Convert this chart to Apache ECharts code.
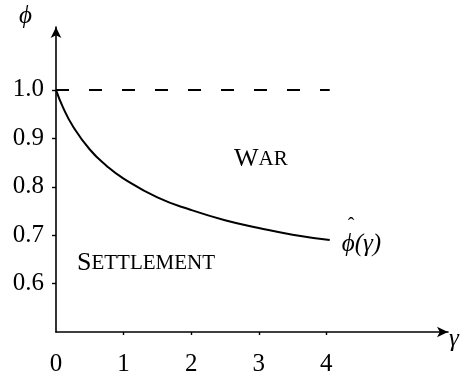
<!DOCTYPE html>
<html>
<head>
<meta charset="utf-8">
<script src="https://cdn.jsdelivr.net/npm/echarts@6/dist/echarts.min.js"></script>
<style>
  html, body { margin: 0; padding: 0; background: #fff; }
  #chart { width: 467px; height: 378px; }
</style>
</head>
<body>
<div id="chart"></div>
<script>
// curve phi_hat(gamma)
const gammaVals = [0, 0.1, 0.25, 0.5, 0.75, 1, 1.5, 2, 2.5, 3, 3.5, 4.05];
const phiVals = [1.0, 0.965, 0.925, 0.877, 0.843, 0.817, 0.778, 0.752, 0.731, 0.715, 0.701, 0.69];
// dashed reference line at phi = 1
const refX = [0, 4.05];
const refY = [1.0, 1.0];
// ticks
const xTickLabels = [0, 1, 2, 3, 4];
const xTicks = [1, 2, 3, 4];
const yTickLabels = [0.6, 0.7, 0.8, 0.9, 1.0];

const serif = 'Liberation Serif';
const myChart = echarts.init(document.getElementById('chart'));

const smallCaps = {
  b: { fontFamily: serif, fontSize: 26, color: '#000' },
  s: { fontFamily: serif, fontSize: 21, color: '#000' }
};

const option = {
  animation: false,
  grid: { left: 56, right: 19, top: 27, bottom: 46 },
  xAxis: {
    type: 'value',
    min: 0,
    max: 5.8,
    splitLine: { show: false },
    axisLine: {
      onZero: false,
      symbol: ['none', 'arrow'],
      symbolSize: [8, 11],
      lineStyle: { color: '#000', width: 1.6 }
    },
    axisTick: {
      customValues: xTicks,
      length: 3,
      lineStyle: { color: '#000', width: 1.4 }
    },
    axisLabel: {
      customValues: xTickLabels,
      margin: 20,
      color: '#000',
      fontFamily: serif,
      fontSize: 25
    }
  },
  yAxis: {
    type: 'value',
    min: 0.5,
    max: 1.13,
    splitLine: { show: false },
    axisLine: {
      onZero: false,
      symbol: ['none', 'arrow'],
      symbolSize: [8, 11],
      lineStyle: { color: '#000', width: 1.6 }
    },
    axisTick: {
      customValues: yTickLabels,
      length: 4,
      lineStyle: { color: '#000', width: 1.4 }
    },
    axisLabel: {
      customValues: yTickLabels,
      margin: 12,
      color: '#000',
      fontFamily: serif,
      fontSize: 25,
      formatter: function (v) { return v.toFixed(1); }
    }
  },
  graphic: [
    { type: 'text', left: 19, top: 4,
      style: { text: 'ϕ', font: 'italic 25px "Liberation Serif"', fill: '#000' } },
    { type: 'text', left: 449, top: 327,
      style: { text: 'γ', font: 'italic 25px "Liberation Serif"', fill: '#000' } },
    { type: 'text', left: 234, top: 146,
      style: { text: '{b|W}{s|AR}', rich: smallCaps } },
    { type: 'text', left: 77, top: 250,
      style: { text: '{b|S}{s|ETTLEMENT}', rich: smallCaps } }
  ],
  series: [
    {
      name: 'phi_hat',
      type: 'line',
      data: gammaVals.map((g, i) => [g, phiVals[i]]),
      smooth: 0.5,
      showSymbol: false,
      lineStyle: { color: '#000', width: 2 },
      endLabel: {
        show: true,
        distance: 12,
        formatter: '{h|ˆ}\n{t|ϕ(γ)}',
        rich: {
          h: { fontFamily: serif, fontSize: 20, lineHeight: 8, color: '#000', padding: [0, 0, 0, 6] },
          t: { fontFamily: serif, fontStyle: 'italic', fontSize: 25, lineHeight: 26, color: '#000' }
        }
      }
    },
    {
      name: 'ref',
      type: 'line',
      data: refX.map((x, i) => [x, refY[i]]),
      showSymbol: false,
      lineStyle: { color: '#000', width: 2, type: [13, 20] }
    }
  ]
};
myChart.setOption(option);
</script>
</body>
</html>
